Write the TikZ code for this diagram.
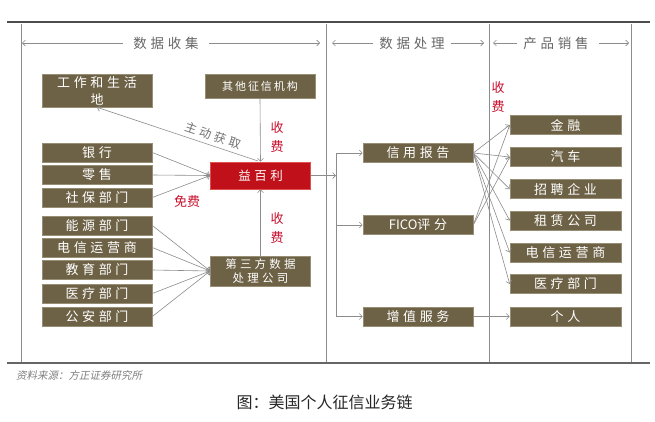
\documentclass[tikz,border=0pt]{standalone}
\usepackage{fontspec}
\usetikzlibrary{arrows.meta}
\newfontfamily\cjk{Noto Sans CJK SC}
\newfontfamily\bfnt[LetterSpace=28]{Noto Sans CJK SC}
\newfontfamily\sfnt[LetterSpace=18]{Noto Sans CJK SC}
\newfontfamily\cjkit[FakeSlant=0.2]{Noto Sans CJK SC}
\definecolor{boxc}{HTML}{6E6246}
\definecolor{boxb}{HTML}{978E76}
\definecolor{redc}{HTML}{C0101A}
\definecolor{redb}{HTML}{E05050}
\definecolor{linec}{HTML}{8C8C8C}
\definecolor{feec}{HTML}{C8102E}
\tikzset{
  box/.style={draw=boxb, line width=0.6pt, fill=boxc, text=white, inner sep=0pt,
    minimum width=110pt, minimum height=19pt, align=center,
    font=\bfnt\fontsize{13}{17}\selectfont},
  redbox/.style={box, fill=redc, draw=redb, minimum width=100pt, minimum height=27pt,
    font=\bfnt\fontsize{12.5}{15}\selectfont},
  arr/.style={draw=linec, line width=0.6pt, -{Straight Barb[length=3pt,width=6pt]}},
  ln/.style={draw=linec, line width=0.6pt},
  hdr/.style={text=black!60, font=\bfnt\fontsize{13.5}{16}\selectfont, inner sep=0pt},
  fee/.style={text=feec, font=\cjk\fontsize{13}{19}\selectfont, align=center, inner sep=0pt},
  frame/.style={draw=black!70, line width=1.2pt},
  col/.style={draw=black!45, line width=0.7pt},
  harrl/.style={draw=black!45, line width=0.6pt, {Straight Barb[length=3pt,width=6pt]}-},
  harrr/.style={draw=black!45, line width=0.6pt, -{Straight Barb[length=3pt,width=6pt]}}
}
\begin{document}
\begin{tikzpicture}[x=1pt,y=-1pt]
\useasboundingbox[fill=white] (0,0) rectangle (655,421);
% frame
\coordinate (tl) at (7,22); \coordinate (tr) at (650,22);
\coordinate (bl) at (7,363); \coordinate (br) at (650,363);
\draw[frame] (tl) -- (tr);
\draw[frame, line width=1.4pt, draw=black!60] (bl) -- (br);
\foreach \xx/\nm in {21/v1,326/v2,489/v3,631/v4}{
  \coordinate (\nm t) at (\xx,24); \coordinate (\nm b) at (\xx,362);
  \draw[col] (\nm t) -- (\nm b);
}
% headers
\node[hdr] (h1) at (166,43) {数据收集};
\node[hdr] (h2) at (412,43) {数据处理};
\node[hdr] (h3) at (556,43) {产品销售};
\coordinate (h1l) at (22,43); \coordinate (h1r) at (320,43);
\coordinate (h2l) at (332,43); \coordinate (h2r) at (484,43);
\coordinate (h3l) at (493,43); \coordinate (h3r) at (629,43);
\draw[harrl] (h1l) -- ([xshift=-10pt]h1.west);
\draw[harrr] ([xshift=10pt]h1.east) -- (h1r);
\draw[harrl] (h2l) -- ([xshift=-6pt]h2.west);
\draw[harrr] ([xshift=6pt]h2.east) -- (h2r);
\draw[harrl] (h3l) -- ([xshift=-6pt]h3.west);
\draw[harrr] ([xshift=10pt]h3.east) -- (h3r);
% left column
\node[box, minimum height=33pt] (gz) at (97,90.5) {工作和生活\\地};
\node[box, font=\sfnt\fontsize{11}{14}\selectfont, minimum height=24pt] (qt) at (260,86) {其他征信机构};
\node[box] (yh) at (97,152.5) {银行};
\node[box] (ls) at (97,175) {零售};
\node[box] (sb) at (97,197.5) {社保部门};
\node[box] (ny) at (97,225.5) {能源部门};
\node[box] (dx) at (97,247.5) {电信运营商};
\node[box] (jy) at (97,270) {教育部门};
\node[box] (yl) at (97,293.5) {医疗部门};
\node[box] (ga) at (97,316.5) {公安部门};
\node[redbox] (yby) at (260.5,175.5) {益百利};
\node[box, minimum width=100pt, minimum height=30pt, font=\bfnt\fontsize{11.5}{14}\selectfont] (ds) at (260.5,271) {第三方数据\\处理公司};
% middle column
\node[box] (xy) at (418,153) {信用报告};
\node[box] (fc) at (418,225) {{\cjk FICO}评分};
\node[box] (zz) at (418,316.5) {增值服务};
% right column
\node[box, minimum width=111pt] (r1) at (565.5,125) {金融};
\node[box, minimum width=111pt] (r2) at (565.5,157) {汽车};
\node[box, minimum width=111pt] (r3) at (565.5,189) {招聘企业};
\node[box, minimum width=111pt] (r4) at (565.5,220.5) {租赁公司};
\node[box, minimum width=111pt] (r5) at (565.5,252.5) {电信运营商};
\node[box, minimum width=111pt] (r6) at (565.5,284) {医疗部门};
\node[box, minimum width=111pt] (r7) at (565.5,316.5) {个人};
% connectors left
\foreach \s in {yh,ls,sb} \draw[arr] (\s.east) -- (yby.west);
\foreach \s in {ny,dx,jy,yl,ga} \draw[arr] (\s.east) -- (ds.west);
\draw[arr] (qt.south) -- (yby.north);
\draw[arr] (ds.north) -- (yby.south);
\coordinate (ybt) at (258,161);
\draw[ln, {Straight Barb[length=3pt,width=6pt]}-] (gz.south) -- node[pos=0.7, sloped, above=4pt, text=black!55, font=\bfnt\fontsize{12}{14}\selectfont, inner sep=0pt] {主动获取} (ybt);
% fees
\node[fee] (f1) at (277,137.5) {收\\费};
\node[fee] (f2) at (277,228.5) {收\\费};
\node[fee] (f3) at (498,97) {收\\费};
\node[fee] (f4) at (187,202) {免费};
% middle connectors
\coordinate (jc) at (336,175.5);
\coordinate (j1) at (336,153);
\coordinate (j2) at (336,225);
\coordinate (j3) at (336,316.5);
\draw[arr] (yby.east) -- (jc);
\draw[ln] (j1) -- (j3);
\draw[arr] (j1) -- (xy.west);
\draw[arr] (j2) -- (fc.west);
\draw[arr] (j3) -- (zz.west);
% fan-outs
\foreach \t in {r1,r2,r3,r4,r5,r6} \draw[arr] (xy.east) -- (\t.west);
\foreach \t in {r1,r2} \draw[arr] (fc.east) -- (\t.west);
\draw[arr] (zz.east) -- (r7.west);
% notes
\node[anchor=west, inner sep=0pt, text=black!50, font=\cjkit\fontsize{10.5}{12}\selectfont] (src) at (16,375) {资料来源：方正证券研究所};
\node[inner sep=0pt, text=black!85, font=\cjk\fontsize{16}{18}\selectfont] (cap) at (324.5,402) {图：美国个人征信业务链};
\end{tikzpicture}
\end{document}
